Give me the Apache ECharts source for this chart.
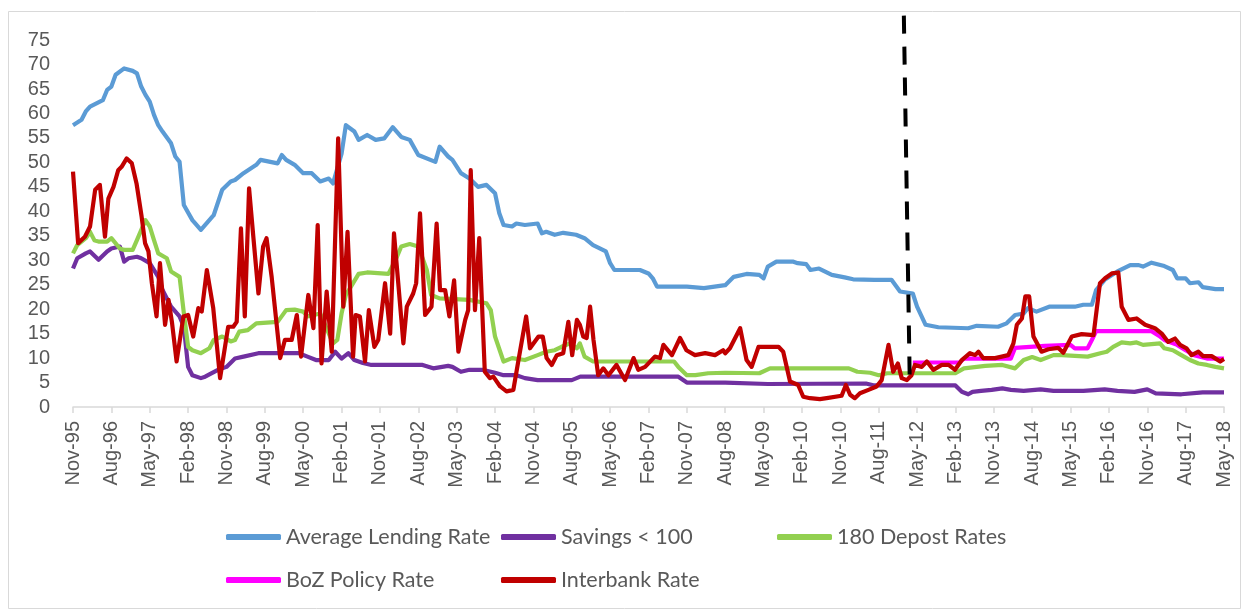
<!DOCTYPE html>
<html>
<head>
<meta charset="utf-8">
<title>Zambia interest rates</title>
<script src="https://cdn.jsdelivr.net/npm/echarts@6/dist/echarts.min.js"></script>
<style>
  html, body { margin: 0; padding: 0; background: #fff; }
  #chart { width: 1244px; height: 611px; }
</style>
</head>
<body>
<div id="chart"></div>
<script>
// x values are months counted from Nov-95 (0) to May-18 (270)
const tickLabels = ['Nov-95', 'Aug-96', 'May-97', 'Feb-98', 'Nov-98', 'Aug-99', 'May-00', 'Feb-01',
  'Nov-01', 'Aug-02', 'May-03', 'Feb-04', 'Nov-04', 'Aug-05', 'May-06', 'Feb-07', 'Nov-07', 'Aug-08',
  'May-09', 'Feb-10', 'Nov-10', 'Aug-11', 'May-12', 'Feb-13', 'Nov-13', 'Aug-14', 'May-15', 'Feb-16',
  'Nov-16', 'Aug-17', 'May-18']

const seriesNames = ['Average Lending Rate', 'Savings < 100', '180 Depost Rates', 'BoZ Policy Rate', 'Interbank Rate']

const lendingRate = [[0, 57.6], [2, 58.7], [3, 60.4], [4, 61.4], [7, 62.7], [8, 64.8], [9, 65.5], [10, 67.9],
  [12, 69.2], [14, 68.7], [15, 68.2], [16, 65.5], [17, 63.8], [18, 62.4], [19, 59.7], [20, 57.6], [21, 56.3],
  [23, 53.9], [24, 51.2], [25, 50.1], [26, 41.3], [28, 38.2], [30, 36.2], [33, 39.2], [35, 44.4], [37, 46.1],
  [38, 46.4], [40, 47.8], [43, 49.5], [44, 50.5], [48, 49.8], [49, 51.5], [50, 50.5], [52, 49.5], [54, 47.8],
  [56, 47.8], [58, 46.1], [60, 46.7], [61, 45.7], [63, 51.8], [64, 57.6], [66, 56.3], [67, 54.6], [69, 55.6],
  [71, 54.6], [73, 54.9], [75, 57.2], [77, 55.2], [79, 54.6], [81, 51.5], [85, 50.1], [86, 53.2], [88, 51.2],
  [89, 50.5], [91, 47.8], [93, 46.7], [95, 45], [97, 45.4], [99, 43.7], [100, 39.6], [101, 37.2], [103, 36.9],
  [104, 37.5], [106, 37.2], [109, 37.5], [110, 35.5], [111, 35.8], [113, 35.2], [115, 35.6], [118, 35.2],
  [120, 34.5], [122, 33.1], [125, 31.8], [126, 29.4], [127, 28], [133, 28], [135, 27.3], [136, 26.3],
  [137, 24.6], [144, 24.6], [148, 24.3], [153, 24.9], [155, 26.6], [158, 27.2], [161, 27], [162, 26.3],
  [163, 28.7], [165, 29.7], [169, 29.7], [170, 29.4], [172, 29.2], [173, 28], [175, 28.3], [178, 27],
  [181, 26.5], [183, 26.1], [188, 26], [192, 26], [194, 23.6], [197, 23.2], [198, 20.5], [200, 16.8],
  [203, 16.3], [210, 16.1], [212, 16.6], [217, 16.4], [219, 17.1], [221, 18.8], [223, 19.1], [224, 20.2],
  [226, 19.5], [229, 20.5], [235, 20.5], [237, 20.9], [239, 20.9], [240, 23.9], [242, 26], [245, 27.7],
  [248, 29], [250, 29], [251, 28.7], [253, 29.5], [256, 28.8], [258, 28], [259, 26.3], [261, 26.3],
  [262, 25.3], [264, 25.5], [265, 24.5], [268, 24.1], [270, 24.1]]

const savingsRate = [[0, 28.3], [1, 30.4], [3, 31.4], [4, 31.8], [6, 30.1], [8, 31.8], [9, 32.4], [11, 32.8],
  [12, 29.7], [13, 30.4], [15, 30.7], [16, 30.4], [18, 29.4], [20, 26.6], [21, 23.9], [23, 20.5], [25, 18.5],
  [26, 16.4], [27, 8.2], [28, 6.5], [30, 5.9], [31, 6.2], [34, 7.6], [36, 8.2], [38, 9.9], [40, 10.3],
  [43.5, 11], [53, 11], [55, 10.3], [57, 9.6], [60, 9.6], [61.5, 11.3], [63, 9.9], [64.6, 11], [66, 9.6],
  [68, 9], [70, 8.6], [82, 8.6], [84.5, 7.9], [88, 8.4], [89, 8.2], [91, 7.2], [93, 7.6], [96, 7.6], [99, 7],
  [101, 6.5], [104, 6.5], [106, 5.9], [109, 5.5], [117, 5.5], [119, 6.2], [142, 6.2], [144, 5], [153, 5],
  [163, 4.7], [186, 4.8], [188, 4.4], [207, 4.4], [208.5, 3.1], [210, 2.6], [211, 3.1], [213, 3.3],
  [215.5, 3.5], [218, 3.8], [220, 3.5], [223, 3.3], [227, 3.6], [230, 3.3], [237, 3.3], [242, 3.6],
  [245, 3.3], [249, 3.1], [252, 3.6], [254, 2.8], [260, 2.6], [265, 3], [270, 3]]

const depositRate180 = [[0, 31.4], [1, 33.1], [3, 34.5], [4, 35.8], [5, 34.1], [6, 33.8], [8, 33.8], [9, 34.5],
  [11, 32.4], [12, 32.1], [14, 32.1], [15, 34.1], [17, 38.2], [18, 36.9], [19, 34.1], [20, 31.4], [22, 30.4],
  [23, 27.7], [25, 26.6], [26, 19.2], [27, 12.3], [28, 11.6], [30, 11], [32, 12], [33, 13.7], [35, 14.4],
  [37, 13.4], [38, 13.7], [39, 15.4], [41, 15.7], [43, 17.1], [48, 17.4], [50, 19.8], [52, 19.9], [54, 19.5],
  [55, 18.5], [58, 19.1], [61, 13], [62, 13.7], [63, 19.1], [64, 22.9], [65, 24.3], [67, 27.2], [69, 27.5],
  [74, 27.2], [76, 30.7], [77, 32.8], [79, 33.3], [81, 32.8], [83, 28], [84, 22.9], [86, 22.2], [93, 21.9],
  [97, 21.2], [98, 19.8], [99, 14.4], [101, 9.3], [103, 10], [106, 9.6], [109, 10.6], [111, 11.3],
  [113, 11.6], [114.6, 12.3], [116.6, 13], [118.2, 12], [118.9, 13], [120, 10.3], [122, 9.3], [141, 9.3],
  [142, 8.2], [144, 6.5], [146, 6.5], [149, 6.9], [153, 7], [161, 6.9], [163.5, 7.9], [182, 7.9], [184, 7.2],
  [187, 7], [189, 6.5], [191, 6.9], [207, 6.9], [209, 7.9], [214, 8.4], [218, 8.6], [221, 7.9], [223, 9.6],
  [225, 10.2], [227, 9.6], [230, 10.6], [232, 10.6], [238, 10.3], [241, 11], [242.5, 11.3], [244, 12.3],
  [246, 13.2], [248, 13], [249.5, 13.2], [251, 12.7], [255, 13], [256, 12], [258, 11.6], [260, 10.6],
  [262, 9.6], [264, 8.9], [266, 8.6], [268, 8.2], [270, 7.9]]

const policyRate = [[197, 9.1], [208, 9.1], [209, 9.9], [220, 9.9], [221, 12.1], [228, 12.5], [234, 12.7],
  [235, 12], [238, 12], [239, 13.7], [240, 15.5], [253, 15.5], [255, 14.4], [256, 13.7], [259, 12.7],
  [261, 11.6], [263, 10.6], [266, 9.9], [270, 9.9]]

const interbankRate = [[0, 48.1], [1.2, 33.5], [2.8, 34.8], [4, 36.9], [5.2, 44.4], [6.3, 45.4], [7.5, 34.8],
  [8.3, 42.6], [9.5, 45], [10.6, 48.4], [11.4, 49.1], [12.6, 50.8], [13.8, 49.8], [14.9, 45.7], [16.1, 38.9],
  [16.9, 33.5], [17.7, 31.8], [18.5, 25.3], [19.6, 18.5], [20.4, 29.4], [21.6, 16.8], [22.4, 21.9],
  [23.2, 17.4], [24.3, 9.3], [25.9, 18.5], [27, 18.8], [28.2, 14.4], [29.4, 20.2], [30.2, 19.5], [31.4, 28],
  [32.9, 20.2], [34.5, 5.9], [36.4, 16.4], [37.6, 16.4], [38.4, 17.4], [39.4, 36.5], [40.3, 18.5],
  [41.3, 44.7], [42.3, 34.8], [43.5, 23.2], [44.6, 32.8], [45.4, 34.5], [46.6, 26.6], [48.6, 10],
  [49.7, 13.7], [51.3, 13.7], [52.5, 18.8], [53.5, 10.3], [55.2, 22.9], [56.4, 16.1], [57.4, 37.2],
  [58.3, 8.9], [59.5, 23.6], [60.7, 11.3], [62.2, 54.9], [63.4, 20.5], [64.4, 35.8], [65.7, 10.3],
  [66.3, 18.8], [67.3, 18.5], [68.5, 9.3], [69.4, 19.8], [70.7, 12.3], [71.6, 13.7], [73.2, 25.3],
  [74.4, 15], [75.3, 35.5], [76.3, 25.3], [77.5, 13], [78.3, 20.5], [79.8, 23.2], [80.5, 25.3], [81.4, 39.6],
  [82.6, 18.8], [84.1, 20.5], [85.3, 37.5], [86.1, 23.9], [87.3, 23.9], [88.3, 18.5], [89.4, 25.9],
  [90.4, 11.3], [92, 17.8], [92.7, 19.8], [93.3, 48.4], [94.3, 19.8], [95.3, 34.5], [96.6, 7.2], [97.8, 5.9],
  [98.6, 6.2], [100.2, 4.2], [101.7, 3.2], [103.3, 3.5], [104.5, 9.6], [106.3, 18.5], [107.2, 12],
  [109.2, 14.4], [110.2, 14.4], [111.1, 10], [112.3, 8.6], [113.5, 10.6], [115, 11], [116.2, 17.4],
  [117.1, 10.6], [118.2, 17.8], [118.9, 16.8], [119.7, 14.4], [120.5, 14.1], [121.3, 20.5], [122.1, 13.7],
  [123.2, 6.5], [124.4, 7.9], [125.6, 6.5], [127.5, 8.6], [129.5, 5.5], [131.5, 10], [132.6, 7.6],
  [134.2, 8.2], [136.5, 10.3], [137.7, 10], [138.5, 12.7], [140.5, 10.6], [142.4, 14.1], [143.9, 11.6],
  [145.9, 10.6], [148.3, 11], [150.6, 10.6], [152.5, 11.6], [153, 11], [154.1, 12], [156.5, 16.1], [158, 9.6],
  [159.2, 8.2], [160.8, 12.3], [165.5, 12.3], [166.6, 11.3], [168.2, 5.2], [170.1, 4.5], [171.3, 2.1],
  [172.9, 1.8], [175.2, 1.6], [176.8, 1.8], [180.3, 2.3], [181.3, 4.5], [182.3, 2.5], [183.4, 1.8],
  [184.6, 2.8], [186.6, 3.5], [188.5, 4.2], [189.7, 5.5], [191.3, 12.7], [192.4, 7.2], [193.5, 8.9],
  [194.4, 5.9], [195.6, 5.5], [196.7, 6.5], [197.5, 8.6], [199.1, 8.2], [200.3, 9.3], [201.8, 7.6],
  [203.8, 8.6], [205.4, 8.6], [206.9, 7.6], [208.5, 9.6], [210.4, 11], [211.6, 10.6], [212.4, 11.3],
  [213.5, 10], [216.3, 10], [219.4, 10.6], [220.6, 13], [221.4, 16.8], [222.6, 18.1], [223.4, 22.6],
  [224.3, 22.6], [225.3, 14.4], [227.2, 11.3], [228.8, 11.8], [231.1, 12.1], [232.3, 11.1], [234.3, 14.4],
  [236.6, 14.9], [239.4, 14.7], [240.9, 25.3], [242.1, 26.3], [243.7, 27.3], [245.2, 27.5], [246, 20.5],
  [247.6, 17.8], [249.5, 18.1], [251.5, 16.8], [253.8, 16.1], [255.4, 15], [256.9, 13.3], [258.5, 14],
  [259.7, 12.7], [261.2, 12], [262.4, 10.6], [264, 11.3], [265.1, 10.4], [267.1, 10.4], [269.1, 9.3],
  [270, 9.8]]

// the dashed marker line, month index / rate at its two ends
const markerStart = [194.9, 80]
const markerEnd = [196.3, 4.5]

const colors = ['#5B9BD5', '#7030A0', '#92D050', '#FF00FF', '#C00000']
const allData = [lendingRate, savingsRate, depositRate180, policyRate, interbankRate]

const chart = echarts.init(document.getElementById('chart'))

// legend boxes laid out like the excel grid (two rows)
const legendPos = [[226, 526], [501, 526], [777, 526], [226, 569], [501, 569]]
const legends = seriesNames.map((name, i) => {
  return {
    data: [name],
    left: legendPos[i][0],
    top: legendPos[i][1],
    icon: 'roundRect',
    itemWidth: 55,
    itemHeight: 6,
    padding: 0,
    selectedMode: false,
    textStyle: {
      fontFamily: 'Lato',
      fontSize: 21.5,
      color: '#595959'
    }
  }
})

const series = seriesNames.map((name, i) => {
  return {
    name: name,
    type: 'line',
    data: allData[i],
    symbol: 'none',
    color: colors[i],
    lineStyle: { width: 4.2, color: colors[i], join: 'round' },
    silent: true
  }
})

series[4].markLine = {
  silent: true,
  symbol: ['none', 'none'],
  label: { show: false },
  lineStyle: { color: '#000', width: 4, type: [18, 13] },
  data: [[{ coord: markerStart }, { coord: markerEnd }]]
}

chart.setOption({
  animation: false,
  backgroundColor: '#fff',
  grid: {
    left: 73,
    right: 20,
    top: 15.6,
    bottom: 204
  },
  legend: legends,
  xAxis: {
    type: 'value',
    min: 0,
    max: 270,
    interval: 9,
    axisLine: { lineStyle: { color: '#d9d9d9', width: 1.5 } },
    axisTick: { show: true, length: 6, lineStyle: { color: '#d9d9d9', width: 1.5 } },
    splitLine: { show: false },
    axisLabel: {
      rotate: 90,
      margin: 14,
      fontFamily: 'Liberation Sans',
      fontSize: 20,
      color: '#595959',
      formatter: (v) => tickLabels[Math.round(v / 9)]
    }
  },
  yAxis: {
    type: 'value',
    min: 0,
    max: 80,
    interval: 5,
    axisLine: { show: false },
    axisTick: { show: false },
    splitLine: { show: false },
    axisLabel: {
      margin: 23,
      fontFamily: 'Liberation Sans',
      fontSize: 20,
      color: '#595959',
      formatter: (v) => (v > 75 ? '' : v)
    }
  },
  graphic: [{
    type: 'rect',
    shape: { x: 8.5, y: 11.5, width: 1232, height: 597 },
    style: { fill: 'none', stroke: '#d9d9d9', lineWidth: 1 },
    silent: true,
    z: -1
  }],
  series: series
})
</script>
</body>
</html>
